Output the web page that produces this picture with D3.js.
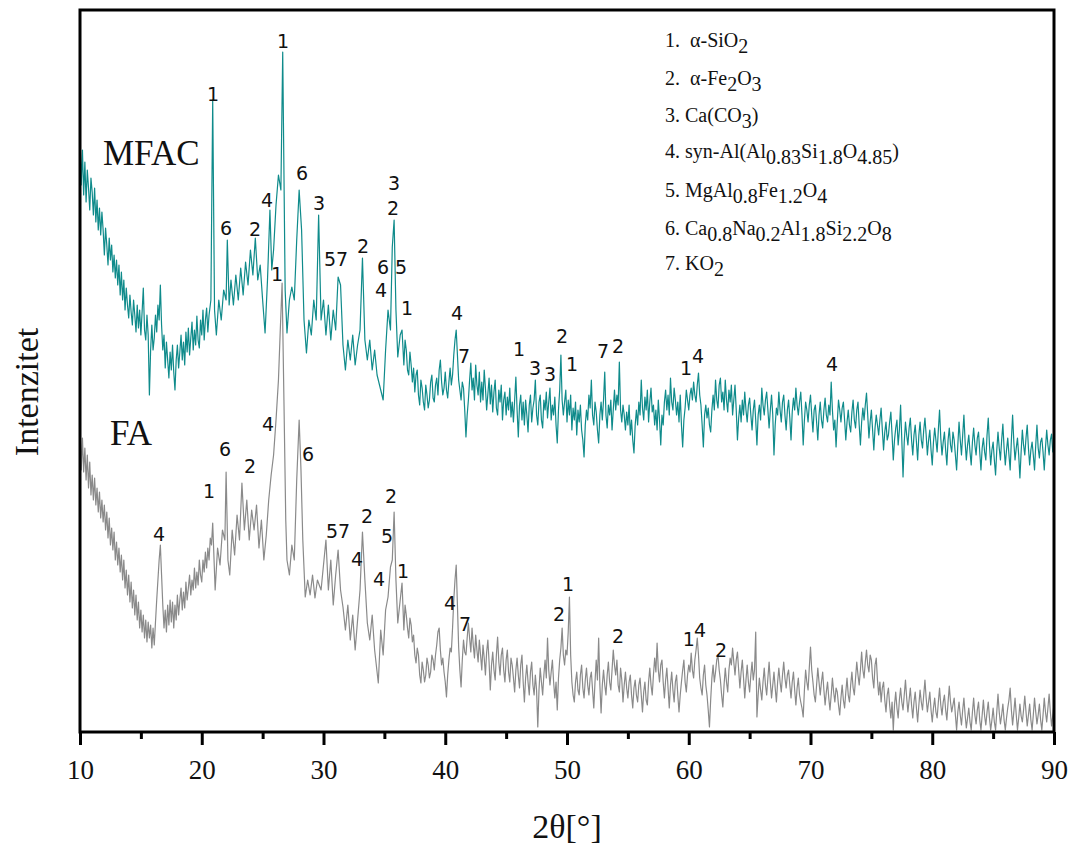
<!DOCTYPE html>
<html>
<head>
<meta charset="utf-8">
<script src="https://cdn.jsdelivr.net/npm/d3@7"></script>
<style>
  body { margin: 0; background: #fff; }
</style>
</head>
<body>
<div id="chart"></div>
<script>
// XRD patterns, [2theta, intensity a.u.]
var mfac = [
  [10.0,865],[10.1,815],[10.2,850],[10.3,805],[10.4,838],[10.5,798],[10.6,830],[10.7,812],[10.8,790],[10.9,822],
  [11.0,808],[11.1,785],[11.2,812],[11.3,778],[11.4,800],[11.5,770],[11.6,792],[11.7,765],[11.8,788],[11.9,770],
  [12.0,745],[12.1,772],[12.2,755],[12.3,735],[12.4,762],[12.5,740],[12.6,755],[12.7,728],[12.8,745],[12.9,722],
  [13.0,740],[13.1,715],[13.2,735],[13.3,705],[13.4,728],[13.5,700],[13.6,720],[13.7,690],[13.8,712],[13.9,695],
  [14.0,682],[14.1,705],[14.2,688],[14.3,675],[14.4,700],[14.5,685],[14.6,668],[14.7,695],[14.8,672],[14.9,690],
  [15.0,665],[15.1,688],[15.2,712],[15.3,670],[15.4,660],[15.5,685],[15.6,665],[15.7,605],[15.8,650],[15.9,675],
  [16.0,650],[16.1,662],[16.2,685],[16.3,668],[16.4,695],[16.5,680],[16.6,715],[16.7,675],[16.8,650],[16.9,665],
  [17.0,632],[17.1,658],[17.2,640],[17.3,622],[17.4,648],[17.5,630],[17.6,655],[17.7,628],[17.8,610],[17.9,640],
  [18.0,655],[18.1,632],[18.2,648],[18.3,665],[18.4,640],[18.5,658],[18.6,635],[18.7,668],[18.8,648],[18.9,672],
  [19.0,645],[19.1,662],[19.2,678],[19.3,650],[19.4,670],[19.5,655],[19.6,684],[19.7,660],[19.8,652],[19.9,680],
  [20.0,665],[20.1,690],[20.2,660],[20.3,680],[20.4,692],[20.5,668],[20.6,685],[20.75,700],[20.9,900],[21.05,690],
  [21.2,665],[21.4,700],[21.6,680],[21.8,710],[22.0,700],[22.1,760],[22.25,695],[22.4,720],[22.6,695],[22.8,725],
  [23.0,700],[23.2,732],[23.4,705],[23.6,738],[23.8,715],[24.0,750],[24.2,725],[24.4,762],[24.6,720],[24.8,735],
  [25.0,700],[25.2,667],[25.4,720],[25.6,790],[25.75,730],[25.9,750],[26.1,795],[26.3,825],[26.5,810],[26.65,948],
  [26.85,710],[27.0,667],[27.2,700],[27.4,713],[27.6,700],[27.8,760],[28.0,810],[28.2,770],[28.4,680],[28.6,647],
  [28.8,680],[29.0,665],[29.2,700],[29.4,680],[29.6,785],[29.8,680],[30.0,700],[30.2,665],[30.4,695],[30.6,660],
  [30.8,690],[31.0,670],[31.2,723],[31.4,715],[31.6,655],[31.8,630],[32.0,660],[32.2,640],[32.4,665],[32.6,635],
  [32.8,655],[33.0,670],[33.2,742],[33.4,660],[33.6,640],[33.8,660],[34.0,630],[34.2,650],[34.4,625],[34.6,615],
  [34.9,600],[35.1,650],[35.3,690],[35.5,670],[35.65,753],[35.8,780],[35.95,690],[36.1,643],[36.3,665],[36.45,670],
  [36.6,635],[36.7,660],[36.8,650],[36.9,630],[37.0,625],[37.1,648],[37.2,635],[37.3,618],[37.4,632],[37.5,608],
  [37.6,625],[37.7,630],[37.8,605],[37.9,595],[38.0,620],[38.1,612],[38.2,598],[38.3,590],[38.4,615],[38.5,605],
  [38.6,592],[38.7,600],[38.8,618],[38.9,625],[39.0,602],[39.1,598],[39.2,615],[39.3,622],[39.4,605],[39.5,630],
  [39.6,640],[39.7,618],[39.8,605],[39.9,612],[40.0,628],[40.1,610],[40.2,602],[40.3,618],[40.4,632],[40.5,615],
  [40.6,625],[40.7,645],[40.8,660],[40.9,670],[41.0,645],[41.1,620],[41.2,610],[41.3,600],[41.4,618],[41.5,612],
  [41.6,590],[41.7,563],[41.8,585],[41.9,600],
  [42.0,620],[42.1,637],[42.2,610],[42.3,622],[42.4,600],[42.5,635],[42.6,615],[42.7,605],[42.8,628],[42.9,598],
  [43.0,618],[43.1,600],[43.2,630],[43.3,612],[43.4,590],[43.5,606],[43.6,622],[43.7,596],[43.8,615],[43.9,588],
  [44.0,608],[44.1,620],[44.2,592],[44.3,585],[44.4,610],[44.5,598],[44.6,615],[44.7,580],[44.8,600],[44.9,608],
  [45.0,585],[45.1,603],[45.2,590],[45.3,612],[45.4,583],[45.5,598],[45.6,578],[45.7,600],[45.8,623],[45.9,590],
  [46.0,563],[46.1,595],[46.2,605],[46.3,580],[46.4,598],[46.5,575],[46.6,600],[46.7,585],[46.8,568],[46.9,595],
  [47.0,605],[47.1,578],[47.2,592],[47.3,600],[47.4,620],[47.5,585],[47.6,575],[47.7,598],[47.8,605],[47.9,580],
  [48.0,572],[48.1,600],[48.2,590],[48.3,608],[48.4,582],[48.5,598],[48.6,612],[48.7,580],[48.8,595],[48.9,585],
  [49.0,603],[49.1,575],[49.2,557],[49.3,590],[49.4,610],[49.5,645],[49.6,600],[49.7,585],[49.8,598],[49.9,610],
  [50.0,578],[50.1,600],[50.2,585],[50.3,605],[50.4,570],[50.5,592],[50.6,580],[50.7,598],[50.8,565],[50.9,590],
  [51.0,578],[51.1,595],[51.2,570],[51.3,560],[51.4,543],[51.5,575],[51.6,590],[51.7,580],[51.8,605],[51.9,592],
  [52.0,620],[52.1,585],[52.2,575],[52.3,598],[52.4,588],[52.5,570],[52.6,557],[52.7,585],[52.8,598],[52.9,580],
  [53.0,600],[53.1,628],[53.2,585],[53.3,572],[53.4,595],[53.5,585],[53.6,600],[53.7,570],[53.8,590],[53.9,610],
  [54.0,590],[54.1,605],[54.2,595],[54.3,638],[54.4,590],[54.5,578],[54.6,595],[54.7,585],[54.8,570],[54.9,588],
  [55.0,575],[55.1,595],[55.2,565],[55.3,580],[55.4,560],[55.5,547],[55.6,575],[55.7,590],[55.8,575],[55.9,598],
  [56.0,585],[56.1,620],[56.2,592],[56.3,580],[56.4,603],[56.5,590],[56.6,610],[56.7,578],[56.8,598],[56.9,612],
  [57.0,588],[57.1,595],[57.2,575],[57.3,590],[57.4,570],[57.5,600],[57.6,580],[57.7,555],[57.8,585],[57.9,575],
  [58.0,598],[58.1,610],[58.2,590],[58.3,605],[58.4,585],[58.5,622],[58.6,598],[58.7,590],[58.8,612],[58.9,600],
  [59.0,585],[59.1,598],[59.2,578],[59.3,605],[59.4,575],[59.5,553],[59.6,580],[59.7,592],[59.8,610],[59.9,600],
  [60.0,590],[60.1,605],[60.2,612],[60.3,600],[60.4,618],[60.5,605],[60.6,598],[60.7,615],[60.8,627],[60.9,605],
  [61.0,595],[61.1,575],[61.2,553],[61.3,585],[61.4,595],[61.5,582],[61.6,592],[61.7,575],[61.8,568],[61.9,590],
  [62.0,605],[62.1,590],[62.2,620],[62.3,600],[62.4,592],[62.5,615],[62.6,622],[62.7,598],[62.8,608],[62.9,590],
  [63.0,620],[63.1,600],[63.2,588],[63.3,610],[63.4,598],[63.5,615],[63.6,585],[63.7,600],[63.8,615],[63.9,590],
  [64.0,560],[64.1,582],[64.2,595],[64.3,578],[64.4,600],[64.5,585],[64.6,608],[64.7,590],[64.8,578],[64.9,595],
  [65.0,602],[65.1,585],[65.2,570],[65.3,590],[65.4,600],[65.5,580],[65.6,555],[65.7,585],[65.8,595],[65.9,580],
  [66.0,612],[66.1,595],[66.2,585],[66.3,600],[66.4,608],[66.5,590],[66.6,572],[66.7,590],[66.8,605],[66.9,585],
  [67.0,545],[67.1,575],[67.2,592],[67.3,585],[67.4,608],[67.5,590],[67.6,578],[67.7,598],[67.8,605],[67.9,585],
  [68.0,570],[68.1,590],[68.2,600],[68.3,582],[68.4,560],[68.5,588],[68.6,602],[68.7,590],[68.8,612],[68.9,595],
  [69.0,585],[69.1,598],[69.2,608],[69.3,585],[69.4,555],[69.5,580],[69.6,598],[69.7,590],[69.8,578],[69.9,595],
  [70.0,605],[70.1,585],[70.2,568],[70.3,590],[70.4,595],[70.5,578],[70.6,560],[70.7,585],[70.8,598],[70.9,580],
  [71.0,572],[71.1,590],[71.2,602],[71.3,585],[71.4,578],[71.5,595],[71.6,585],[71.7,618],[71.8,590],[71.9,570],
  [72.0,580],[72.1,553],[72.2,578],[72.3,600],[72.4,590],[72.5,578],[72.6,592],[72.7,598],[72.8,580],[72.9,560],
  [73.0,578],[73.1,590],[73.2,575],[73.3,568],[73.4,588],[73.5,600],[73.6,580],[73.7,572],[73.8,590],[73.9,598],
  [74.0,575],[74.1,555],[74.2,578],[74.3,592],[74.4,580],[74.5,595],[74.6,607],[74.7,585],[74.8,562],[74.9,578],
  [75.0,590],[75.1,570],[75.2,550],[75.3,572],[75.4,585],[75.5,575],[75.6,565],[75.7,580],[75.8,592],[75.9,570],
  [76.0,550],[76.1,568],[76.2,578],[76.3,560],[76.4,565],[76.5,578],[76.6,588],[76.7,565],[76.8,540],[76.9,560],
  [77.0,572],[77.1,580],[77.2,555],[77.3,570],[77.4,595],[77.5,560],[77.6,523],[77.7,558],[77.8,578],[77.9,565],
  [78.0,555],[78.1,572],[78.2,582],[78.3,560],[78.4,545],[78.5,565],[78.6,575],[78.7,558],[78.8,540],[78.9,565],
  [79.0,578],[79.1,560],[79.2,552],[79.3,570],[79.4,582],[79.5,565],[79.6,545],[79.7,560],[79.8,570],[79.9,550],
  [80.0,535],[80.1,558],[80.2,572],[80.3,560],[80.4,548],[80.5,570],[80.6,590],[80.7,562],[80.8,545],[80.9,558],
  [81.0,568],[81.1,550],[81.2,535],[81.3,560],[81.4,572],[81.5,555],[81.6,548],[81.7,568],[81.8,560],[81.9,545],
  [82.0,530],[82.1,555],[82.2,578],[82.3,560],[82.4,545],[82.5,565],[82.6,585],[82.7,558],[82.8,540],[82.9,555],
  [83.0,565],[83.1,548],[83.2,535],[83.3,558],[83.4,572],[83.5,555],[83.6,545],[83.7,562],[83.8,568],[83.9,548],
  [84.0,530],[84.1,552],[84.2,562],[84.3,548],[84.4,540],[84.5,565],[84.6,582],[84.7,555],[84.8,535],[84.9,550],
  [85.0,558],[85.1,540],[85.2,525],[85.3,550],[85.4,568],[85.5,552],[85.6,540],[85.7,560],[85.8,576],[85.9,552],
  [86.0,535],[86.1,550],[86.2,562],[86.3,545],[86.4,530],[86.5,560],[86.6,585],[86.7,558],[86.8,540],[86.9,552],
  [87.0,562],[87.1,545],[87.2,522],[87.3,548],[87.4,570],[87.5,555],[87.6,545],[87.7,562],[87.8,575],[87.9,552],
  [88.0,535],[88.1,550],[88.2,558],[88.3,545],[88.4,530],[88.5,555],[88.6,575],[88.7,552],[88.8,542],[88.9,558],
  [89.0,562],[89.1,548],[89.2,530],[89.3,552],[89.4,570],[89.5,555],[89.6,545],[89.7,560],[89.8,566],[89.9,548],
  [90.0,555]
];

var fa = [
  [10.0,575],[10.1,530],[10.2,562],[10.3,528],[10.4,552],[10.5,520],[10.6,545],[10.7,512],[10.8,538],[10.9,505],
  [11.0,525],[11.1,500],[11.2,522],[11.3,495],[11.4,512],[11.5,488],[11.6,508],[11.7,482],[11.8,500],[11.9,478],
  [12.0,495],[12.1,470],[12.2,488],[12.3,462],[12.4,482],[12.5,455],[12.6,472],[12.7,450],[12.8,468],[12.9,440],
  [13.0,458],[13.1,435],[13.2,452],[13.3,428],[13.4,445],[13.5,420],[13.6,440],[13.7,412],[13.8,430],[13.9,405],
  [14.0,425],[14.1,398],[14.2,418],[14.3,392],[14.4,410],[14.5,385],[14.6,405],[14.7,380],[14.8,398],[14.9,372],
  [15.0,390],[15.1,368],[15.2,385],[15.3,362],[15.4,380],[15.5,358],[15.6,378],[15.7,362],[15.8,375],[15.9,352],
  [16.0,372],[16.1,355],[16.2,378],[16.3,400],[16.4,420],[16.5,440],[16.6,455],[16.7,425],[16.8,395],[16.9,372],
  [17.0,390],[17.1,368],[17.2,395],[17.3,375],[17.4,400],[17.5,378],[17.6,398],[17.7,372],[17.8,395],[17.9,380],
  [18.0,405],[18.1,385],[18.2,400],[18.3,412],[18.4,390],[18.5,408],[18.6,392],[18.7,418],[18.8,400],[18.9,412],
  [19.0,425],[19.1,405],[19.2,420],[19.3,410],[19.4,432],[19.5,412],[19.6,428],[19.7,415],[19.8,440],[19.9,425],
  [20.0,418],[20.1,440],[20.2,428],[20.3,448],[20.4,432],[20.5,452],[20.6,440],[20.7,462],[20.8,455],[20.9,477],
  [21.1,410],[21.3,452],[21.5,435],[21.7,470],[21.9,460],[22.0,528],[22.15,440],[22.3,425],[22.5,470],[22.7,445],
  [22.9,485],[23.1,460],[23.3,517],[23.5,470],[23.7,500],[23.9,460],[24.1,490],[24.3,470],[24.5,495],[24.7,452],
  [24.9,480],[25.1,440],[25.3,465],[25.5,500],[25.7,525],[25.9,545],[26.1,580],[26.3,620],[26.45,670],[26.6,717],
  [26.75,600],[26.9,480],[27.0,440],[27.2,425],[27.4,455],[27.6,440],[27.8,520],[28.0,580],[28.15,530],[28.3,460],
  [28.5,403],[28.7,420],[28.9,405],[29.1,425],[29.3,402],[29.5,420],[29.8,410],[30.0,435],[30.2,460],[30.4,410],
  [30.6,440],[30.8,395],[31.0,425],[31.2,450],[31.4,410],[31.6,393],[31.8,370],[32.0,395],[32.2,360],[32.4,385],
  [32.6,350],[32.8,380],[33.0,410],[33.2,468],[33.4,420],[33.6,377],[33.8,360],[34.0,385],[34.2,350],[34.5,317],
  [34.7,370],[34.9,345],[35.1,390],[35.3,403],[35.5,433],[35.65,440],[35.8,488],[35.95,420],[36.1,377],[36.3,400],
  [36.45,417],
  [36.6,370],[36.7,395],[36.8,385],[36.9,372],[37.0,362],[37.1,382],[37.2,375],[37.3,358],[37.4,365],[37.5,345],
  [37.6,337],[37.7,352],[37.8,345],[37.9,325],[38.0,317],[38.1,338],[38.2,330],[38.3,318],[38.4,325],[38.5,342],
  [38.6,335],[38.7,322],[38.8,328],[38.9,345],[39.0,340],[39.1,330],[39.2,345],[39.3,355],[39.4,368],[39.5,372],
  [39.6,350],[39.7,335],[39.8,342],[39.9,328],[40.0,318],[40.1,303],[40.2,325],[40.3,340],[40.4,352],[40.5,348],
  [40.6,372],[40.7,400],[40.8,420],[40.9,435],[41.0,395],[41.1,353],[41.2,330],[41.3,313],[41.4,340],[41.5,360],
  [41.6,348],[41.7,345],[41.8,362],[41.9,377],
  [42.0,362],[42.1,348],[42.2,372],[42.3,355],[42.4,342],[42.5,365],[42.6,350],[42.7,338],[42.8,360],[42.9,345],
  [43.0,330],[43.1,355],[43.2,342],[43.3,325],[43.4,348],[43.5,360],[43.6,338],[43.7,310],[43.8,335],[43.9,348],
  [44.0,330],[44.1,320],[44.2,345],[44.3,363],[44.4,338],[44.5,325],[44.6,345],[44.7,352],[44.8,330],[44.9,318],
  [45.0,340],[45.1,350],[45.2,328],[45.3,318],[45.4,342],[45.5,335],[45.6,322],[45.7,308],[45.8,330],[45.9,342],
  [46.0,325],[46.1,312],[46.2,335],[46.3,345],[46.4,318],[46.5,298],[46.6,322],[46.7,335],[46.8,318],[46.9,305],
  [47.0,328],[47.1,338],[47.2,315],[47.3,305],[47.4,325],[47.5,310],[47.6,273],[47.7,310],[47.8,332],[47.9,318],
  [48.0,305],[48.1,325],[48.2,340],[48.3,322],[48.4,362],[48.5,330],[48.6,315],[48.7,328],[48.8,340],[48.9,318],
  [49.0,302],[49.1,318],[49.2,290],[49.3,322],[49.4,340],[49.5,352],[49.6,372],[49.7,345],[49.8,335],[49.9,350],
  [50.0,345],[50.1,368],[50.2,403],[50.3,345],[50.4,318],[50.5,305],[50.6,298],[50.7,318],[50.8,328],[50.9,310],
  [51.0,305],[51.1,325],[51.2,335],[51.3,312],[51.4,302],[51.5,320],[51.6,332],[51.7,315],[51.8,305],[51.9,322],
  [52.0,328],[52.1,310],[52.2,292],[52.3,318],[52.4,340],[52.5,320],[52.6,362],[52.7,315],[52.8,287],[52.9,315],
  [53.0,330],[53.1,315],[53.2,305],[53.3,325],[53.4,338],[53.5,318],[53.6,310],[53.7,330],[53.8,350],[53.9,335],
  [54.0,325],[54.1,340],[54.2,315],[54.3,308],[54.4,332],[54.5,320],[54.6,298],[54.7,315],[54.8,328],[54.9,312],
  [55.0,302],[55.1,318],[55.2,325],[55.3,305],[55.4,292],[55.5,312],[55.6,320],[55.7,305],[55.8,298],[55.9,315],
  [56.0,322],[56.1,305],[56.2,288],[56.3,308],[56.4,318],[56.5,300],[56.6,295],[56.7,318],[56.8,332],[56.9,315],
  [57.0,305],[57.1,325],[57.2,342],[57.3,328],[57.4,357],[57.5,330],[57.6,318],[57.7,335],[57.8,340],[57.9,318],
  [58.0,302],[58.1,320],[58.2,332],[58.3,312],[58.4,292],[58.5,315],[58.6,328],[58.7,310],[58.8,298],[58.9,318],
  [59.0,325],[59.1,305],[59.2,288],[59.3,305],[59.4,318],[59.5,330],[59.6,340],[59.7,318],[59.8,308],[59.9,325],
  [60.0,335],[60.1,328],[60.2,347],[60.3,330],[60.4,322],[60.5,340],[60.6,350],[60.7,362],[60.8,345],[60.9,322],
  [61.0,312],[61.1,305],[61.2,325],[61.3,335],[61.4,315],[61.5,305],[61.6,290],[61.7,273],[61.8,300],[61.9,322],
  [62.0,335],[62.1,318],[62.2,328],[62.3,340],[62.4,345],[62.5,330],[62.6,320],[62.7,305],[62.8,293],[62.9,315],
  [63.0,332],[63.1,318],[63.2,308],[63.3,330],[63.4,342],[63.5,335],[63.6,352],[63.7,338],[63.8,325],[63.9,340],
  [64.0,348],[64.1,330],[64.2,312],[64.3,328],[64.4,340],[64.5,322],[64.6,302],[64.7,320],[64.8,335],[64.9,318],
  [65.0,308],[65.1,325],[65.2,338],[65.3,320],[65.4,330],[65.5,368],[65.6,283],[65.7,305],[65.8,322],[65.9,310],
  [66.0,300],[66.1,318],[66.2,332],[66.3,315],[66.4,305],[66.5,322],[66.6,338],[66.7,318],[66.8,302],[66.9,315],
  [67.0,328],[67.1,312],[67.2,298],[67.3,318],[67.4,332],[67.5,318],[67.6,308],[67.7,325],[67.8,338],[67.9,322],
  [68.0,312],[68.1,325],[68.2,330],[68.3,315],[68.4,302],[68.5,318],[68.6,328],[68.7,310],[68.8,295],[68.9,312],
  [69.0,322],[69.1,305],[69.2,298],[69.3,292],[69.4,283],[69.5,310],[69.6,330],[69.7,318],[69.8,310],[69.9,332],
  [70.0,353],[70.1,330],[70.2,318],[70.3,305],[70.4,298],[70.5,315],[70.6,332],[70.7,318],[70.8,305],[70.9,318],
  [71.0,328],[71.1,310],[71.2,295],[71.3,308],[71.4,318],[71.5,302],[71.6,290],[71.7,305],[71.8,322],[71.9,308],
  [72.0,298],[72.1,312],[72.2,308],[72.3,295],[72.4,285],[72.5,302],[72.6,315],[72.7,300],[72.8,292],[72.9,308],
  [73.0,322],[73.1,305],[73.2,298],[73.3,315],[73.4,328],[73.5,312],[73.6,305],[73.7,322],[73.8,338],[73.9,325],
  [74.0,315],[74.1,330],[74.2,348],[74.3,330],[74.4,322],[74.5,338],[74.6,350],[74.7,335],[74.8,328],[74.9,345],
  [75.0,340],[75.1,322],[75.2,312],[75.3,335],[75.4,342],[75.5,320],[75.6,305],[75.7,318],[75.8,298],[75.9,312],
  [76.0,318],[76.1,300],[76.2,288],[76.3,305],[76.4,312],[76.5,295],[76.6,282],[76.7,298],[76.8,270],[76.9,295],
  [77.0,308],[77.1,292],[77.2,282],[77.3,300],[77.4,312],[77.5,298],[77.6,290],[77.7,305],[77.8,320],[77.9,302],
  [78.0,288],[78.1,300],[78.2,312],[78.3,295],[78.4,282],[78.5,298],[78.6,308],[78.7,292],[78.8,278],[78.9,295],
  [79.0,310],[79.1,298],[79.2,290],[79.3,305],[79.4,320],[79.5,302],[79.6,288],[79.7,298],[79.8,308],[79.9,290],
  [80.0,278],[80.1,292],[80.2,302],[80.3,288],[80.4,282],[80.5,298],[80.6,312],[80.7,295],[80.8,285],[80.9,298],
  [81.0,305],[81.1,290],[81.2,280],[81.3,298],[81.4,314],[81.5,298],[81.6,288],[81.7,295],[81.8,302],[81.9,285],
  [82.0,270],[82.1,288],[82.2,298],[82.3,285],[82.4,275],[82.5,290],[82.6,302],[82.7,285],[82.8,272],[82.9,282],
  [83.0,292],[83.1,278],[83.2,270],[83.3,288],[83.4,302],[83.5,285],[83.6,276],[83.7,290],[83.8,298],[83.9,280],
  [84.0,270],[84.1,285],[84.2,300],[84.3,284],[84.4,275],[84.5,288],[84.6,298],[84.7,282],[84.8,270],[84.9,280],
  [85.0,292],[85.1,278],[85.2,270],[85.3,288],[85.4,306],[85.5,288],[85.6,276],[85.7,285],[85.8,296],[85.9,280],
  [86.0,270],[86.1,282],[86.2,292],[86.3,300],[86.4,312],[86.5,290],[86.6,275],[86.7,288],[86.8,302],[86.9,285],
  [87.0,270],[87.1,282],[87.2,296],[87.3,284],[87.4,278],[87.5,290],[87.6,304],[87.7,288],[87.8,274],[87.9,285],
  [88.0,296],[88.1,280],[88.2,270],[88.3,285],[88.4,302],[88.5,288],[88.6,276],[88.7,285],[88.8,296],[88.9,280],
  [89.0,270],[89.1,285],[89.2,302],[89.3,288],[89.4,278],[89.5,292],[89.6,306],[89.7,288],[89.8,274],[89.9,285],
  [90.0,296]
];

// phase markers: [label, 2theta, intensity]
var mfacPeaks = [
  ["1",20.92,899],["1",26.67,952],["6",21.99,765],["2",24.37,764],["4",25.36,793],
  ["6",28.23,820],["3",29.63,790],["57",31.03,734],["2",33.24,747],["6",34.89,726],
  ["5",36.37,726],["4",34.72,703],["3",35.79,810],["2",35.71,785],["1",36.86,685],
  ["4",40.97,680],["7",41.54,637],["1",46.06,644],["3",47.37,625],["3",48.60,619],
  ["2",49.59,657],["1",50.41,629],["7",52.96,642],["2",54.19,647],["1",59.77,625],
  ["4",60.76,637],["4",71.77,629]
];
var faPeaks = [
  ["1",26.18,719],["4",16.49,459],["1",20.60,502],["6",21.91,544],["2",23.96,527],
  ["4",25.44,569],["6",28.73,539],["57",31.19,462],["2",33.57,477],["4",32.75,434],
  ["2",35.54,497],["5",35.22,457],["4",34.56,414],["1",36.53,422],["4",40.39,390],
  ["7",41.62,369],["2",49.34,379],["1",50.08,409],["2",54.19,357],["1",60.00,354],
  ["4",60.92,363],["2",62.65,343]
];

var majorTicks = [10, 20, 30, 40, 50, 60, 70, 80, 90];
var minorTicks = [15, 25, 35, 45, 55, 65, 75, 85];

// legend rows, parts flagged 1 are subscripts
var phases = [
  [["1.\u00a0\u00a0\u03b1-SiO",0],["2",1]],
  [["2.\u00a0\u00a0\u03b1-Fe",0],["2",1],["O",0],["3",1]],
  [["3. Ca(CO",0],["3",1],[")",0]],
  [["4. syn-Al(Al",0],["0.83",1],["Si",0],["1.8",1],["O",0],["4.85",1],[")",0]],
  [["5. MgAl",0],["0.8",1],["Fe",0],["1.2",1],["O",0],["4",1]],
  [["6. Ca",0],["0.8",1],["Na",0],["0.2",1],["Al",0],["1.8",1],["Si",0],["2.2",1],["O",0],["8",1]],
  [["7. KO",0],["2",1]]
];

var width = 974, height = 722;

var svg = d3.select("#chart")
    .append("svg")
    .attr("width", 1071)
    .attr("height", 845)
    .append("g")
    .attr("transform", "translate(80,10)");

var x = d3.scaleLinear().domain([10, 90]).range([0, width]);
var y = d3.scaleLinear().domain([268, 990]).range([height, 0]);

var line = d3.line()
    .x(function (d) { return x(d[0]); })
    .y(function (d) { return y(d[1]); });

// traces
svg.append("path").datum(fa)
    .attr("d", line)
    .attr("fill", "none")
    .attr("stroke", "#8a8a8a")
    .attr("stroke-width", 1.2)
    .attr("stroke-linejoin", "round");

svg.append("path").datum(mfac)
    .attr("d", line)
    .attr("fill", "none")
    .attr("stroke", "#0f8b8b")
    .attr("stroke-width", 1.2)
    .attr("stroke-linejoin", "round");

// peak labels
svg.selectAll("text.peak")
    .data(mfacPeaks.concat(faPeaks))
    .enter()
    .append("text")
    .attr("class", "peak")
    .attr("x", function (d) { return x(d[1]); })
    .attr("y", function (d) { return y(d[2]); })
    .attr("text-anchor", "middle")
    .attr("font-family", "DejaVu Sans, Verdana, sans-serif")
    .attr("font-size", "19px")
    .attr("fill", "#111")
    .text(function (d) { return d[0]; });

// axes
var xAxis = svg.append("g")
    .attr("transform", "translate(0," + height + ")")
    .call(d3.axisBottom(x).tickValues(majorTicks).tickSize(13).tickPadding(15).tickFormat(d3.format("d")));
xAxis.select(".domain").remove();
xAxis.selectAll("line").attr("stroke", "#000").attr("stroke-width", 3);
xAxis.selectAll("text")
    .attr("font-family", "Liberation Serif, Times New Roman, serif")
    .attr("font-size", "27px")
    .attr("fill", "#111");

var xMinor = svg.append("g")
    .attr("transform", "translate(0," + height + ")")
    .call(d3.axisBottom(x).tickValues(minorTicks).tickSize(7).tickFormat(""));
xMinor.select(".domain").remove();
xMinor.selectAll("line").attr("stroke", "#000").attr("stroke-width", 3);

// frame
svg.append("rect")
    .attr("x", 0).attr("y", 0)
    .attr("width", width).attr("height", height)
    .attr("fill", "none")
    .attr("stroke", "#000")
    .attr("stroke-width", 3);

// axis titles
svg.append("text")
    .attr("x", 487).attr("y", 828)
    .attr("text-anchor", "middle")
    .attr("font-family", "Liberation Serif, Times New Roman, serif")
    .attr("font-size", "34px")
    .attr("fill", "#111")
    .text("2\u03b8[\u00b0]");

svg.append("text")
    .attr("transform", "translate(-42,382) rotate(-90)")
    .attr("text-anchor", "middle")
    .attr("font-family", "Liberation Serif, Times New Roman, serif")
    .attr("font-size", "34px")
    .attr("fill", "#111")
    .text("Intenzitet");

// sample names
svg.append("text")
    .attr("x", 23).attr("y", 155)
    .attr("font-family", "Liberation Serif, Times New Roman, serif")
    .attr("font-size", "35px")
    .attr("fill", "#111")
    .text("MFAC");

svg.append("text")
    .attr("x", 30).attr("y", 435)
    .attr("font-family", "Liberation Serif, Times New Roman, serif")
    .attr("font-size", "35px")
    .attr("fill", "#111")
    .text("FA");

// phase legend
var rowY = [37, 75, 112, 148, 187, 225, 260];
var legend = svg.append("g").attr("transform", "translate(585,0)");
phases.forEach(function (row, i) {
    var t = legend.append("text")
        .attr("x", 0).attr("y", rowY[i])
        .attr("font-family", "Liberation Serif, Times New Roman, serif")
        .attr("font-size", "20px")
        .attr("fill", "#111");
    var shifted = false;
    row.forEach(function (p) {
        var dy = 0;
        if (p[1] && !shifted) { dy = 6; shifted = true; }
        else if (!p[1] && shifted) { dy = -6; shifted = false; }
        t.append("tspan").attr("dy", dy).text(p[0]);
    });
});
</script>
</body>
</html>
